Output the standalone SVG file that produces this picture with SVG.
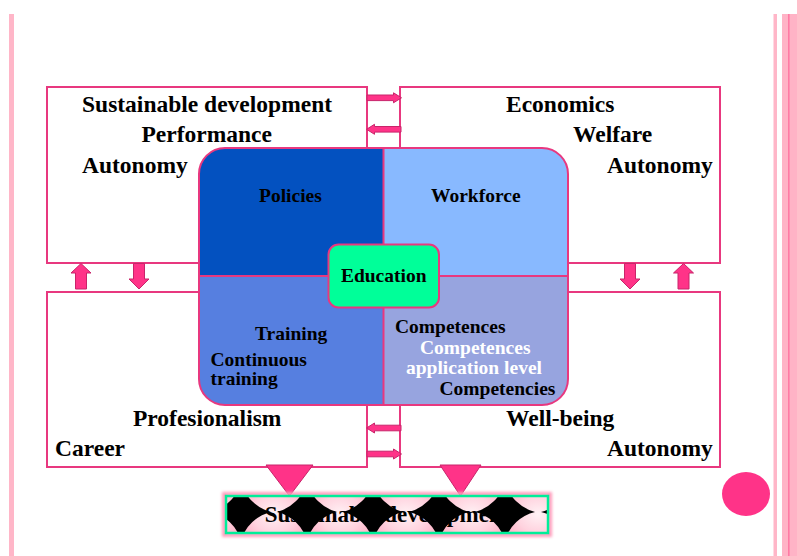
<svg xmlns="http://www.w3.org/2000/svg" width="797" height="556" viewBox="0 0 797 556">
  <style>
    .box { fill: #ffffff; stroke: #e8387f; stroke-width: 2; }
    .lbl { font-family: "Liberation Serif", "Times New Roman", serif; font-weight: bold; font-size: 23.5px; fill: #000000; }
    .inner { font-family: "Liberation Serif", "Times New Roman", serif; font-weight: bold; font-size: 19.5px; fill: #000000; }
    .white { fill: #ffffff; }
    .arrow { fill: #ff3388; stroke: #c8246a; stroke-width: 1; stroke-linejoin: miter; }
    .star { fill: #000000; }
  </style>
  <defs>
    <clipPath id="coreClip">
      <rect x="199" y="148" width="369" height="257" rx="26" ry="26"/>
    </clipPath>
    <clipPath id="barClip">
      <rect x="226" y="496" width="322" height="37"/>
    </clipPath>
    <radialGradient id="bubble" cx="0.5" cy="0.5" r="0.5">
      <stop offset="0" stop-color="#fff2f5"/>
      <stop offset="0.6" stop-color="#ffd3df"/>
      <stop offset="1" stop-color="#ffb3c8"/>
    </radialGradient>
    <filter id="glow" x="-10%" y="-30%" width="120%" height="160%">
      <feGaussianBlur stdDeviation="1.5"/>
    </filter>
  </defs>

  <rect x="0" y="0" width="797" height="556" fill="#ffffff"/>

  <!-- page edge stripes -->
  <rect x="9" y="14" width="5" height="542" fill="#ffb6c8"/>
  <rect x="773.5" y="14" width="3.5" height="542" fill="#ffb6c8"/>
  <rect x="782" y="14" width="15" height="542" fill="#ffb3c6"/>
  <rect x="788" y="14" width="1.6" height="542" fill="#ff7aa5"/>

  <!-- outer boxes -->
  <g id="box-sustainable">
    <rect class="box" x="47" y="87" width="320" height="176"/>
    <text class="lbl" x="82" y="111.5">Sustainable development</text>
    <text class="lbl" x="141.5" y="142">Performance</text>
    <text class="lbl" x="82" y="172.5">Autonomy</text>
  </g>
  <g id="box-economics">
    <rect class="box" x="400" y="87" width="320" height="176"/>
    <text class="lbl" x="506" y="111.5">Economics</text>
    <text class="lbl" x="573" y="142">Welfare</text>
    <text class="lbl" x="607" y="172.5">Autonomy</text>
  </g>
  <g id="box-profesionalism">
    <rect class="box" x="47" y="292" width="320" height="175"/>
    <text class="lbl" x="133" y="426">Profesionalism</text>
    <text class="lbl" x="55" y="456">Career</text>
  </g>
  <g id="box-wellbeing">
    <rect class="box" x="400" y="292" width="320" height="175"/>
    <text class="lbl" x="506" y="426">Well-being</text>
    <text class="lbl" x="607" y="456">Autonomy</text>
  </g>

  <!-- central quadrant block -->
  <g id="core">
    <g clip-path="url(#coreClip)">
      <rect x="199" y="148" width="184.5" height="128" fill="#0351c0"/>
      <rect x="383.5" y="148" width="184.5" height="128" fill="#88b9ff"/>
      <rect x="199" y="276" width="184.5" height="129" fill="#567fe0"/>
      <rect x="383.5" y="276" width="184.5" height="129" fill="#97a4df"/>
    </g>
    <line x1="383.5" y1="148" x2="383.5" y2="405" stroke="#e8387f" stroke-width="2"/>
    <line x1="199" y1="276" x2="568" y2="276" stroke="#e8387f" stroke-width="2"/>
    <rect x="199" y="148" width="369" height="257" rx="26" ry="26" fill="none" stroke="#e8387f" stroke-width="2"/>
  </g>
  <g id="quad-policies">
    <text class="inner" x="259" y="201.5">Policies</text>
  </g>
  <g id="quad-workforce">
    <text class="inner" x="431" y="201.5">Workforce</text>
  </g>
  <g id="quad-training">
    <text class="inner" x="255" y="339.5">Training</text>
    <text class="inner" x="210.5" y="366">Continuous</text>
    <text class="inner" x="210.5" y="384.5">training</text>
  </g>
  <g id="quad-competences">
    <text class="inner" x="395" y="332.5">Competences</text>
    <text class="inner white" x="420" y="353.5">Competences</text>
    <text class="inner white" x="406" y="373.5">application level</text>
    <text class="inner" x="439.5" y="394.5">Competencies</text>
  </g>
  <g id="education">
    <rect x="328.5" y="244.5" width="110.5" height="63" rx="10" ry="10" fill="#00ff99" stroke="#e8387f" stroke-width="2"/>
    <text class="inner" x="383.7" y="282" text-anchor="middle">Education</text>
  </g>

  <!-- connectors -->
  <g id="connectors">
    <!-- between upper boxes -->
    <path class="arrow" d="M367 95 H393.5 V92.8 L401.5 97.8 L393.5 102.8 V100.6 H367 Z"/>
    <path class="arrow" d="M401 126.5 H374.5 V124.3 L366.5 129.3 L374.5 134.3 V132.1 H401 Z"/>
    <!-- between lower boxes -->
    <path class="arrow" d="M401 425.2 H374.5 V423 L366.5 428 L374.5 433 V430.8 H401 Z"/>
    <path class="arrow" d="M367 451.2 H393.5 V449 L401.5 454 L393.5 459 V456.8 H367 Z"/>
    <!-- left column -->
    <path class="arrow" d="M75.5 289 V273 H71 L81 263.5 L91 273 H86.5 V289 Z"/>
    <path class="arrow" d="M133.5 263.5 V279 H129 L139 289 L149 279 H144.5 V263.5 Z"/>
    <!-- right column -->
    <path class="arrow" d="M624.5 263.5 V279 H620 L630 289 L640 279 H635.5 V263.5 Z"/>
    <path class="arrow" d="M678 289 V273 H673.5 L683.5 263.5 L693.5 273 H689 V289 Z"/>
    <!-- down into the base bar -->
    <path class="arrow" d="M266 465 H313 L289.5 496 Z"/>
    <path class="arrow" d="M440 465 H481 L460.5 496 Z"/>
  </g>

  <!-- base bar -->
  <g id="base-bar">
    <rect x="224" y="494" width="326" height="41" fill="none" stroke="#ff9cbc" stroke-width="4" filter="url(#glow)"/>
    <g clip-path="url(#barClip)">
      <rect x="226" y="496" width="322" height="37" fill="#ffc2d2"/>
      <ellipse cx="208" cy="514" rx="36" ry="30" fill="url(#bubble)"/>
      <ellipse cx="274" cy="514" rx="36" ry="30" fill="url(#bubble)"/>
      <ellipse cx="340" cy="514" rx="36" ry="30" fill="url(#bubble)"/>
      <ellipse cx="406" cy="514" rx="36" ry="30" fill="url(#bubble)"/>
      <ellipse cx="472" cy="514" rx="36" ry="30" fill="url(#bubble)"/>
      <ellipse cx="538" cy="514" rx="36" ry="30" fill="url(#bubble)"/>
      <text x="387" y="521.5" text-anchor="middle" font-family="Liberation Serif, Times New Roman, serif" font-weight="bold" font-size="23" fill="#000000">Sustainable development</text>
      <path class="star" d="M211 512 A42 42 0 0 0 241 482 A42 42 0 0 0 271 512 A42 42 0 0 0 241 540 A42 42 0 0 0 211 512 Z"/>
      <path class="star" d="M277 512 A42 42 0 0 0 307 482 A42 42 0 0 0 337 512 A42 42 0 0 0 307 540 A42 42 0 0 0 277 512 Z"/>
      <path class="star" d="M343 512 A42 42 0 0 0 373 482 A42 42 0 0 0 403 512 A42 42 0 0 0 373 540 A42 42 0 0 0 343 512 Z"/>
      <path class="star" d="M409 512 A42 42 0 0 0 439 482 A42 42 0 0 0 469 512 A42 42 0 0 0 439 540 A42 42 0 0 0 409 512 Z"/>
      <path class="star" d="M475 512 A42 42 0 0 0 505 482 A42 42 0 0 0 535 512 A42 42 0 0 0 505 540 A42 42 0 0 0 475 512 Z"/>
      <path class="star" d="M541 512 A42 42 0 0 0 571 482 A42 42 0 0 0 601 512 A42 42 0 0 0 571 540 A42 42 0 0 0 541 512 Z"/>
    </g>
    <rect x="226" y="496" width="322" height="37" fill="none" stroke="#00ee99" stroke-width="2.5"/>
  </g>

  <!-- corner dot -->
  <ellipse cx="746" cy="494" rx="24" ry="22" fill="#ff3388"/>
</svg>
